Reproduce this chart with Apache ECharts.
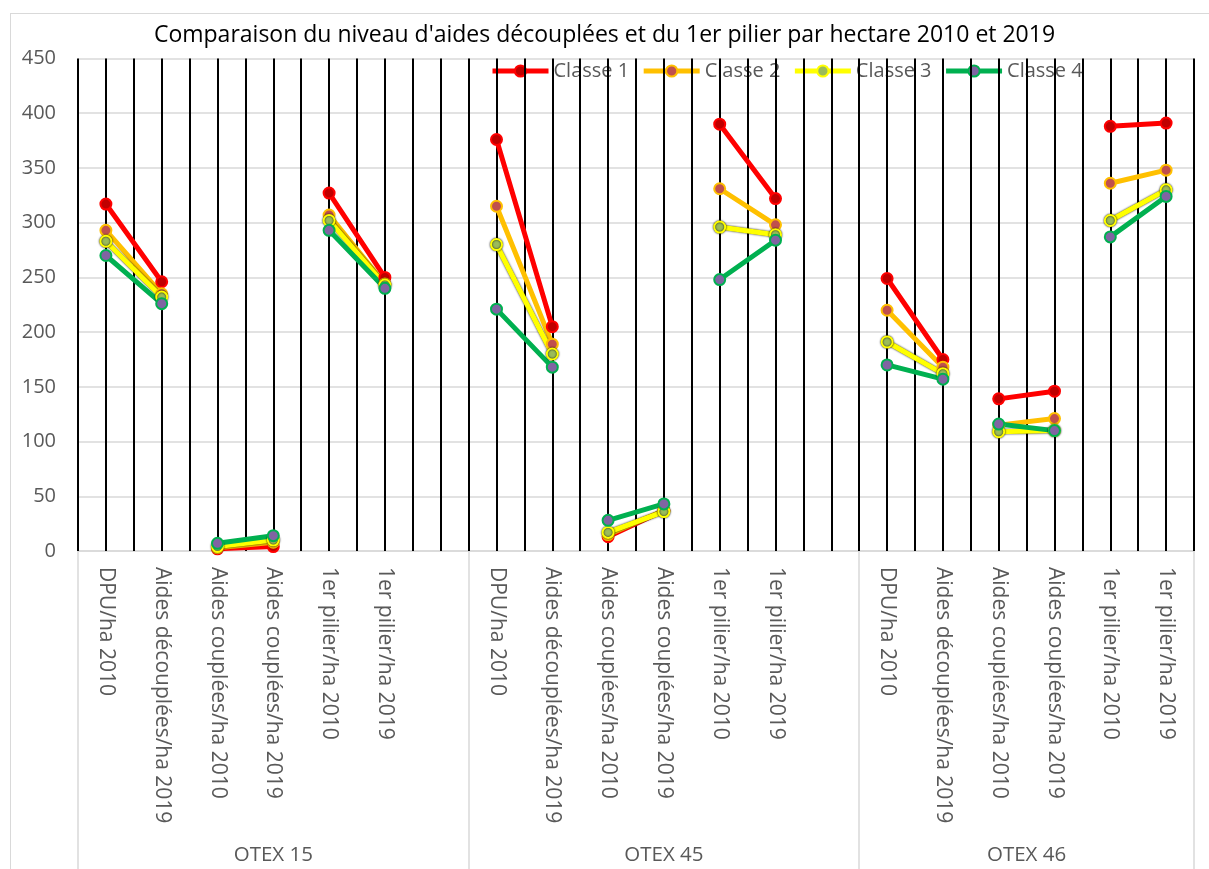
<!DOCTYPE html>
<html>
<head>
<meta charset="utf-8">
<script src="https://cdn.jsdelivr.net/npm/echarts@6/dist/echarts.min.js"></script>
<style>
  html, body { margin: 0; padding: 0; background: #fff; }
  #main { width: 1209px; height: 869px; position: relative; }
  #frame { position: absolute; left: 10px; top: 13px; width: 1220px; height: 880px; border: 1px solid #d9d9d9; box-sizing: border-box; pointer-events: none; }
</style>
</head>
<body>
<div id="main"></div>
<div id="frame"></div>
<script>
// ---- data ----
const categories = [
  'DPU/ha 2010', 'Aides découplées/ha 2019', 'Aides couplées/ha 2010', 'Aides couplées/ha 2019', '1er pilier/ha 2010', '1er pilier/ha 2019', '',
  'DPU/ha 2010', 'Aides découplées/ha 2019', 'Aides couplées/ha 2010', 'Aides couplées/ha 2019', '1er pilier/ha 2010', '1er pilier/ha 2019', '',
  'DPU/ha 2010', 'Aides découplées/ha 2019', 'Aides couplées/ha 2010', 'Aides couplées/ha 2019', '1er pilier/ha 2010', '1er pilier/ha 2019'
];
const groupNames = ['OTEX 15', 'OTEX 45', 'OTEX 46'];
const groupSizes = [7, 7, 6];
const seriesNames = ['Classe 1', 'Classe 2', 'Classe 3', 'Classe 4'];
const classe1 = [317, 246, 2, 4, 327, 250, null, 376, 205, 13, 37, 390, 322, null, 249, 175, 139, 146, 388, 391];
const classe2 = [293, 235, 3, 8, 307, 244, null, 315, 189, 15, 37, 331, 298, null, 220, 168, 115, 121, 336, 348];
const classe3 = [283, 232, 4, 10, 302, 243, null, 280, 180, 17, 36, 296, 289, null, 191, 162, 109, 110, 302, 330];
const classe4 = [270, 226, 7, 14, 293, 240, null, 221, 168, 28, 43, 248, 284, null, 170, 157, 116, 110, 287, 324];
const yTicks = { min: 0, max: 450, step: 50 };

// ---- styles ----
const styles = [
  { line: '#FF0000', fill: '#C00000' },
  { line: '#FFC000', fill: '#C0504D' },
  { line: '#FFFF00', fill: '#9BBB59', outline: true },
  { line: '#00B050', fill: '#8064A2' }
];
const FONT = '"Open Sans", Lato, sans-serif';
const GREY = '#595959';

// group boundaries & centers derived from sizes
const groupStarts = [];
let acc = 0;
groupSizes.forEach(s => { groupStarts.push(acc); acc += s; });
const boundaries = groupStarts.concat([acc]);
const centers = groupStarts.map((s, i) => s + groupSizes[i] / 2);

const allData = [classe1, classe2, classe3, classe4];
const series = [];
allData.forEach((vals, ci) => {
  const st = styles[ci];
  for (let p = 0; p < 3; p++) {
    const d = vals.map((v, idx) => {
      let g = 0;
      for (let k = 0; k < groupStarts.length; k++) if (idx >= groupStarts[k]) g = k;
      const local = idx - groupStarts[g];
      return (local === 2 * p || local === 2 * p + 1) ? v : null;
    });
    const lineStyle = { color: st.line, width: 5 };
    const itemStyle = { color: st.fill, borderColor: st.line, borderWidth: 2 };
    if (st.outline) {
      lineStyle.shadowColor = 'rgba(0,0,0,0.9)';
      lineStyle.shadowBlur = 2;
      itemStyle.shadowColor = 'rgba(0,0,0,0.9)';
      itemStyle.shadowBlur = 2;
    }
    series.push({
      name: seriesNames[ci],
      type: 'line',
      xAxisIndex: 0,
      yAxisIndex: 0,
      data: d,
      connectNulls: false,
      symbol: 'circle',
      symbolSize: 11,
      showSymbol: true,
      lineStyle: lineStyle,
      itemStyle: itemStyle,
      emphasis: { disabled: true },
      animation: false
    });
  }
});

const chart = echarts.init(document.getElementById('main'), null, { renderer: 'canvas' });
chart.setOption({
  animation: false,
  backgroundColor: 'transparent',
  title: {
    text: "Comparaison du niveau d'aides découplées et du 1er pilier par hectare 2010 et 2019",
    left: 'center',
    top: 19,
    textStyle: { fontFamily: FONT, fontSize: 23, fontWeight: 'normal', color: '#000' }
  },
  legend: {
    data: seriesNames,
    left: 485,
    top: 56,
    z: 0,
    itemWidth: 56,
    itemHeight: 14,
    itemGap: 12,
    lineStyle: { width: 5 },
    textStyle: { fontFamily: FONT, fontSize: 20, color: GREY }
  },
  grid: { left: 78, right: 15, top: 58.5, bottom: 318, containLabel: false },
  xAxis: [
    {
      type: 'category',
      data: categories,
      boundaryGap: true,
      axisLine: { show: true, lineStyle: { color: '#d9d9d9', width: 1.5 } },
      axisTick: { show: false },
      splitLine: { show: false },
      axisLabel: { interval: 0, rotate: -90, margin: 16, fontFamily: FONT, fontSize: 21, color: GREY }
    },
    {
      type: 'value',
      min: 0,
      max: categories.length,
      interval: 0.5,
      z: 1,
      position: 'bottom',
      axisLine: { show: false },
      axisTick: { show: false },
      axisLabel: { show: false },
      splitLine: { show: true, lineStyle: { color: '#000', width: 2 } }
    },
    {
      type: 'value',
      min: 0,
      max: categories.length,
      position: 'bottom',
      axisLine: { show: false },
      splitLine: { show: false },
      axisTick: { show: true, customValues: boundaries, length: 318, lineStyle: { color: '#d9d9d9', width: 1.5 } },
      axisLabel: {
        show: true,
        customValues: centers,
        margin: 294,
        fontFamily: FONT, fontSize: 20.5, color: GREY,
        formatter: function (v) {
          const i = centers.indexOf(v);
          return i >= 0 ? groupNames[i] : '';
        }
      }
    }
  ],
  yAxis: {
    type: 'value',
    min: yTicks.min,
    max: yTicks.max,
    interval: yTicks.step,
    axisLine: { show: false },
    axisTick: { show: false },
    axisLabel: { margin: 22, fontFamily: FONT, fontSize: 20, color: GREY },
    splitLine: { show: true, lineStyle: { color: '#d9d9d9', width: 1.5 } }
  },
  series: series
});
</script>
</body>
</html>
